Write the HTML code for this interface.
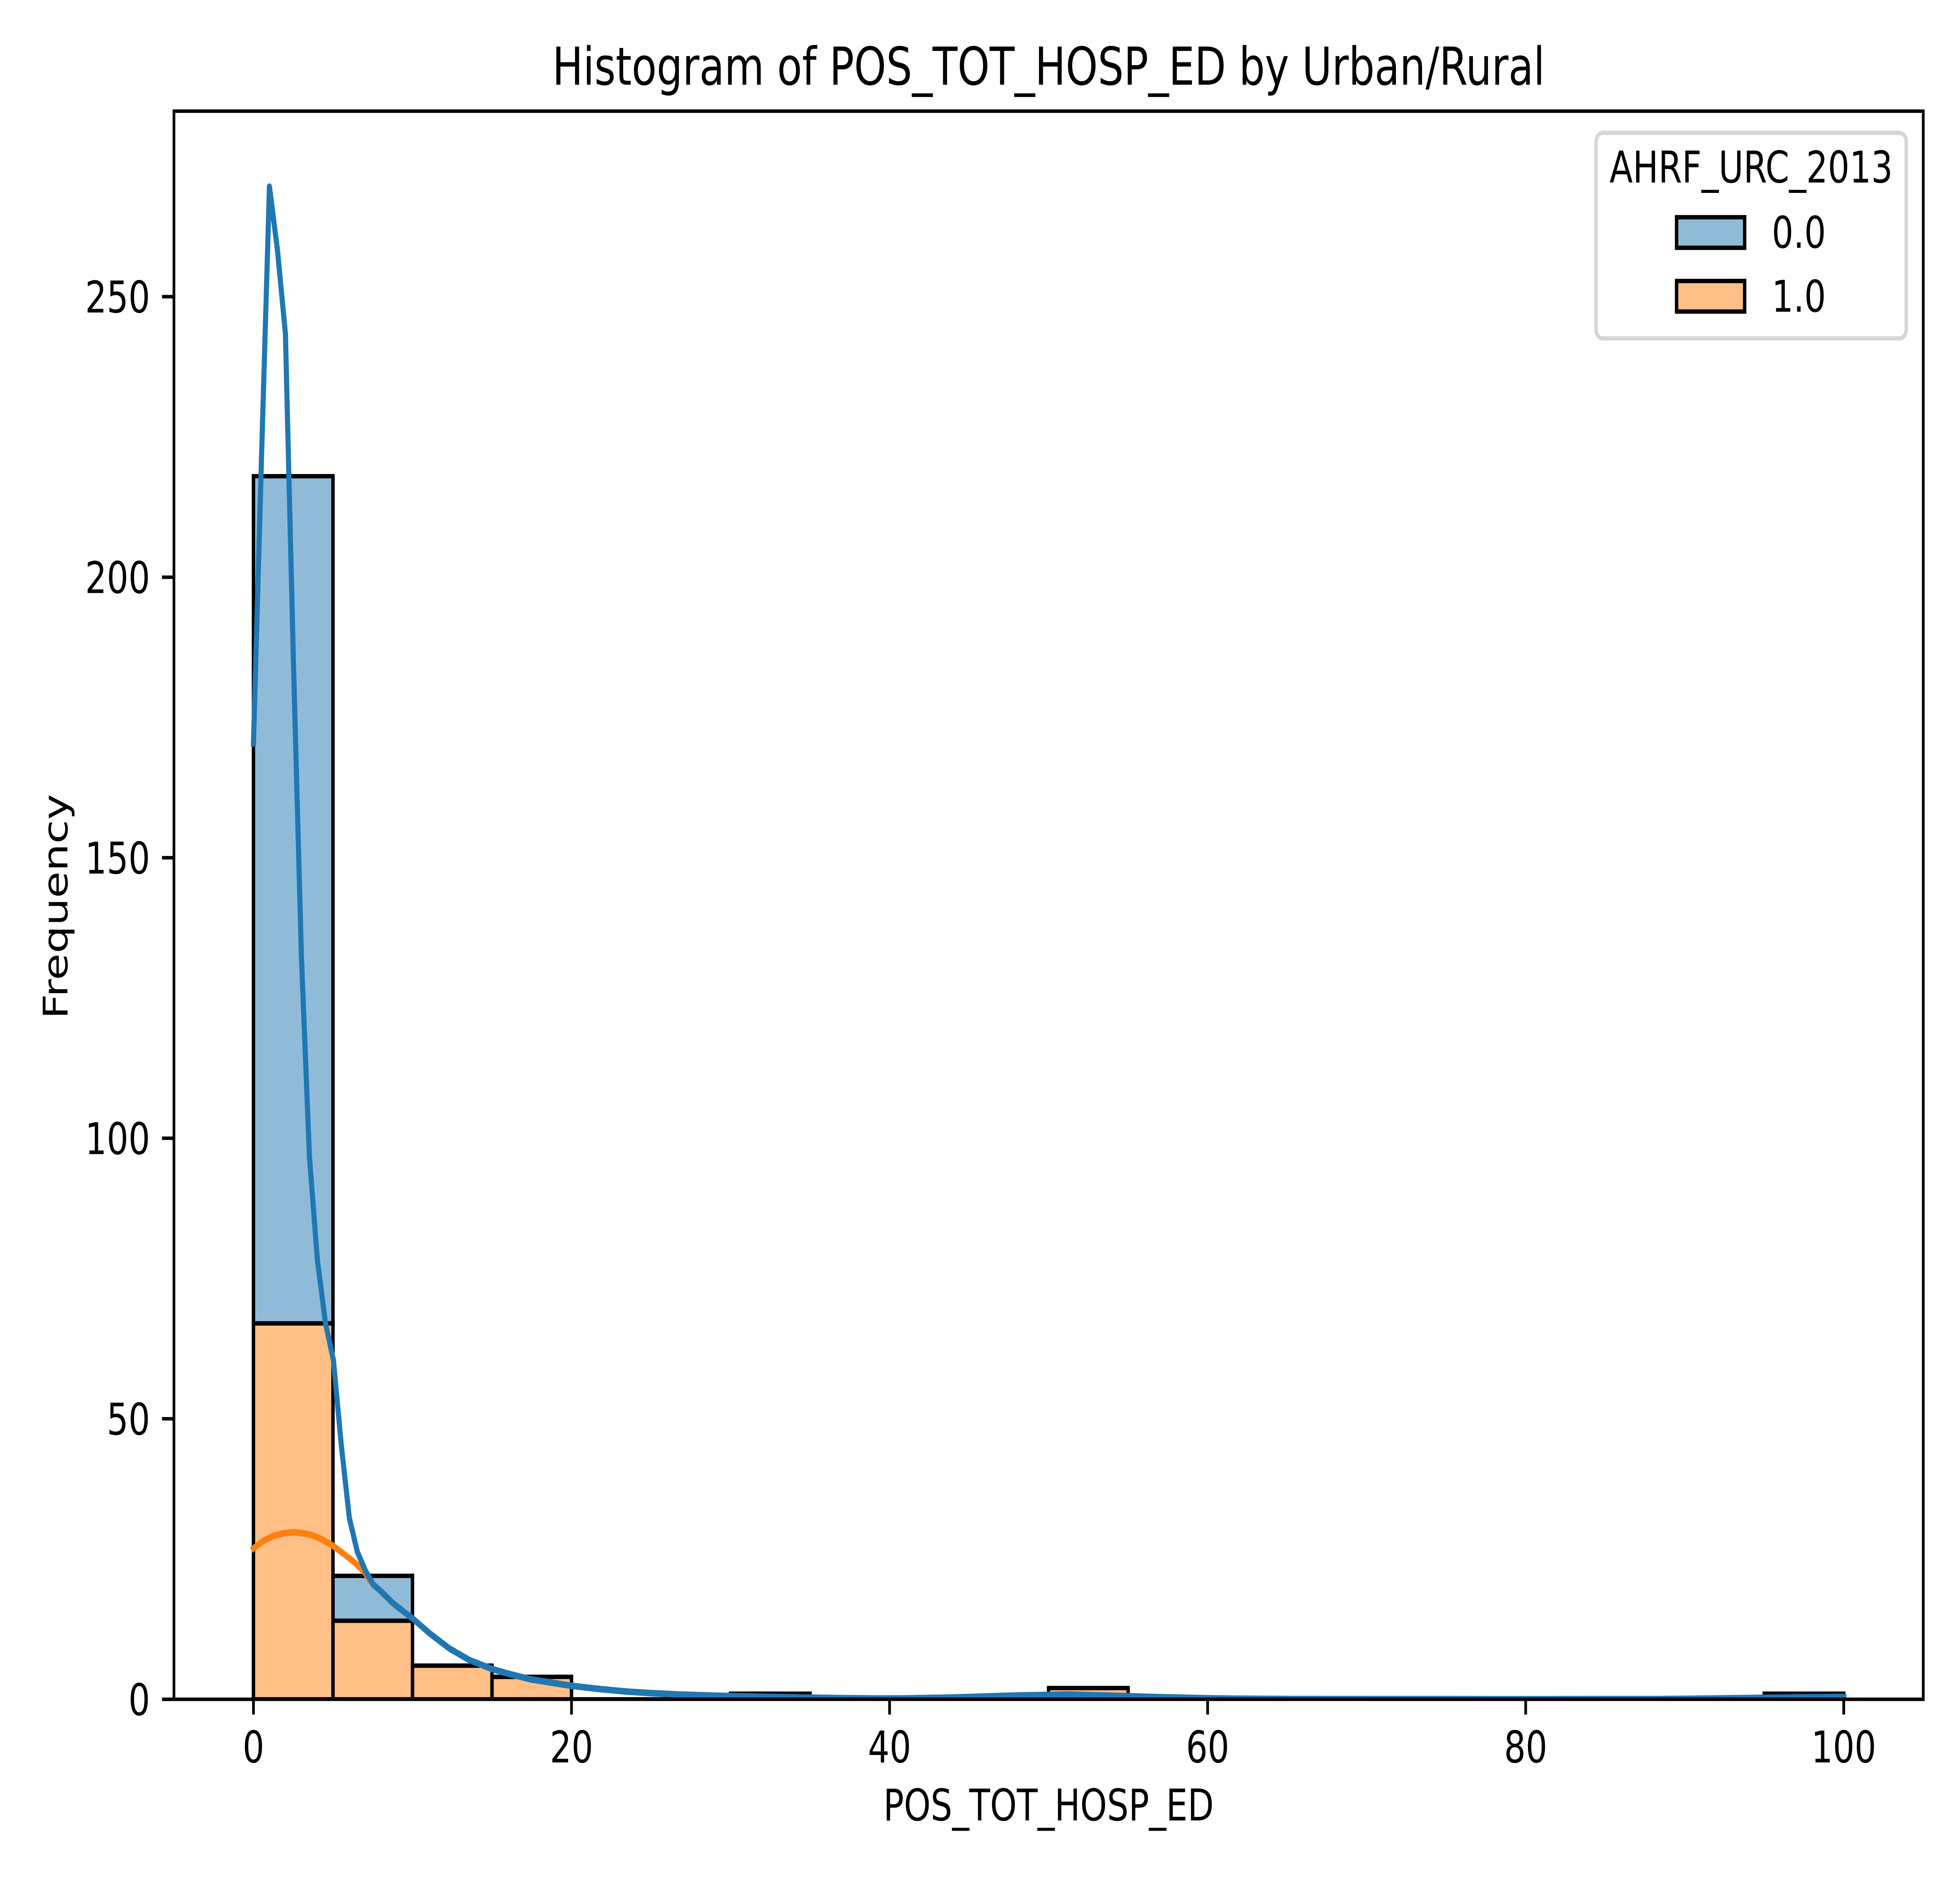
<!DOCTYPE html>
<html>
<head>
<meta charset="utf-8">
<title>Histogram of POS_TOT_HOSP_ED by Urban/Rural</title>
<style>
html,body{margin:0;padding:0;background:#fff;width:100%;height:100%;overflow:hidden}
svg{display:block;width:100vw;height:100vh}
text{font-family:"DejaVu Sans","Liberation Sans",sans-serif;fill:#000}
</style>
</head>
<body>
<svg id="chart" xmlns="http://www.w3.org/2000/svg" viewBox="0 0 6400 4800" preserveAspectRatio="none">
  <defs>
    <clipPath id="axes-clip"><rect x="568" y="283.5" width="5712" height="4050.5"/></clipPath>
  </defs>
  <rect x="0" y="0" width="6400" height="4800" fill="#fff"/>
  <g id="bars" clip-path="url(#axes-clip)"></g>
  <g id="lines" clip-path="url(#axes-clip)"></g>
  <g id="ticks"></g>
  <rect x="568" y="283.5" width="5712" height="4050.5" fill="none" stroke="#000" stroke-width="8.89" stroke-linejoin="miter"/>
  <text x="3424" y="216" font-size="133.33" text-anchor="middle">Histogram of POS_TOT_HOSP_ED by Urban/Rural</text>
  <text x="3424" y="4643" font-size="111.11" text-anchor="middle">POS_TOT_HOSP_ED</text>
  <text x="220" y="2312" font-size="111.11" text-anchor="middle" transform="rotate(-90 220 2312)">Frequency</text>
  <g>
    <rect x="5211.6" y="338.8" width="1013" height="524.4" rx="22.2" ry="22.2" fill="#fff" fill-opacity="0.8" stroke="#d6d6d6" stroke-width="11.11"/>
    <text x="5718" y="465.5" font-size="111.11" text-anchor="middle">AHRF_URC_2013</text>
    <rect x="5474.6" y="554" width="222.2" height="78" fill="#1f77b4" fill-opacity="0.5" stroke="#000" stroke-width="11.11"/>
    <text x="5785.5" y="632" font-size="111.11">0.0</text>
    <rect x="5474.6" y="716.6" width="222.2" height="78" fill="#ff7f0e" fill-opacity="0.5" stroke="#000" stroke-width="11.11"/>
    <text x="5785.5" y="795" font-size="111.11">1.0</text>
  </g>
</svg>
<script>
// Chart data
const binEdges = [0,5,10,15,20,25,30,35,40,45,50,55,60,65,70,75,80,85,90,95,100];
const countsRural = [67,14,6,4,0,0,0,0,0,0,2,0,0,0,0,0,0,0,0,0];
const countsUrban = [151,8,0,0,0,0,1,0,0,0,0,0,0,0,0,0,0,0,0,1];
const kdeBlueX = [0,0.5025,1.005,1.51,2.01,2.51,3.015,3.52,4.02,4.52,5.03,5.53,6.03,6.53,7.04,7.54,8.04,8.75,9.05,10.05,11.06,12.3,13.57,15,16.1,17.45,20,21.7,23.5,25,26.7,28.4,29.9,32,35.2,37,39.2,41,43.8,46,48,50.1,51.2,53,55,57,60,62,65,70,80,88.3,91.9,94.9,97,100];
const kdeBlueY = [170.4,221,269.6,258.3,243.4,185.2,132.4,96.7,78.3,67.2,60.4,45.1,32.3,26.3,22.9,20.4,19.2,17.2,16.5,14.3,11.8,9.1,7,5.4,4.5,3.55,2.4,1.85,1.37,1.1,0.86,0.7,0.58,0.45,0.28,0.2,0.14,0.16,0.3,0.5,0.68,0.79,0.85,0.72,0.55,0.38,0.18,0.1,0.05,0.03,0.02,0.04,0.14,0.26,0.34,0.42];
const kdeOrangeX = [0,0.6,1.23,1.9,2.56,3.33,3.74,4.3,4.93,5.5,6.1,6.54,7,7.35,8.04,8.75,9.05,10.05,11.06,12.3,13.57,15,16.1,17.45,20,21.7,23.5,25,26.7,28.4,29.9,32,35.2,37,39.2,41,43.8,46,48,50.1,51.2,53,55,57,60,62,65];
const kdeOrangeY = [26.9,28.2,29.1,29.6,29.8,29.5,29.2,28.5,27.5,26.3,25,23.9,22.6,21,19.1,17.2,16.5,14.3,11.8,9.1,7,5.4,4.5,3.55,2.4,1.85,1.37,1.1,0.86,0.7,0.58,0.45,0.28,0.2,0.14,0.16,0.3,0.5,0.68,0.79,0.85,0.72,0.55,0.38,0.18,0.1,0.05];
const xTickValues = [0,20,40,60,80,100];
const yTickValues = [0,50,100,150,200,250];

// Axis functions
const SVG_NS = 'http://www.w3.org/2000/svg';
const xMin = -5, xMax = 105, yMax = 283.07;
const left = 568, right = 6280, top_ = 283.5, bottom = 4334;
function xScale(v){ return left + (v - xMin) / (xMax - xMin) * (right - left); }
function yScale(v){ return bottom - v / yMax * (bottom - top_); }

function make(tag, parent){
  const el = document.createElementNS(SVG_NS, tag);
  parent.appendChild(el);
  return el;
}

const barsGroup = document.getElementById('bars');
const linesGroup = document.getElementById('lines');
const ticksGroup = document.getElementById('ticks');

function drawBar(i, base, height, color, label){
  const x0 = xScale(binEdges[i]), x1 = xScale(binEdges[i + 1]);
  const y0 = yScale(base), y1 = yScale(base + height);
  const p = make('path', barsGroup);
  p.setAttribute('d', 'M' + x0 + ' ' + y0 + 'L' + x0 + ' ' + y1 + 'L' + x1 + ' ' + y1 + 'L' + x1 + ' ' + y0 + 'Z');
  p.setAttribute('fill', color);
  p.setAttribute('fill-opacity', '0.5');
  p.setAttribute('stroke', '#000');
  p.setAttribute('stroke-width', '11.11');
  p.setAttribute('stroke-linejoin', 'miter');
  
  
}

for (let i = 0; i < countsUrban.length; i++) {
  drawBar(i, countsRural[i], countsUrban[i], '#1f77b4', 'urban-rural-0');
}
for (let i = 0; i < countsRural.length; i++) {
  drawBar(i, 0, countsRural[i], '#ff7f0e', 'urban-rural-1');
}

function drawLine(xs, ys, color, label){
  const p = make('path', linesGroup);
  let d = '';
  for (let i = 0; i < xs.length; i++) {
    d += (i ? 'L' : 'M') + xScale(xs[i]).toFixed(2) + ' ' + yScale(ys[i]).toFixed(2);
  }
  p.setAttribute('d', d);
  p.setAttribute('fill', 'none');
  p.setAttribute('stroke', color);
  p.setAttribute('stroke-width', '16.67');
  p.setAttribute('stroke-linejoin', 'round');
  p.setAttribute('stroke-linecap', 'square');
  
  
}
drawLine(kdeOrangeX, kdeOrangeY, '#ff7f0e', 'kde-line-1');
drawLine(kdeBlueX, kdeBlueY, '#1f77b4', 'kde-line-0');

xTickValues.forEach(function(v){
  const px = xScale(v);
  const t = make('line', ticksGroup);
  t.setAttribute('x1', px);
  t.setAttribute('x2', px);
  t.setAttribute('y1', bottom);
  t.setAttribute('y2', bottom + 38.9);
  t.setAttribute('stroke', '#000');
  t.setAttribute('stroke-width', '8.89');
  
  
  const l = make('text', ticksGroup);
  l.setAttribute('x', px);
  l.setAttribute('y', 4495);
  l.setAttribute('font-size', '111.11');
  l.setAttribute('text-anchor', 'middle');
  
  
  l.textContent = String(v);
});

yTickValues.forEach(function(v){
  const py = yScale(v);
  const t = make('line', ticksGroup);
  t.setAttribute('x1', left - 38.9);
  t.setAttribute('x2', left);
  t.setAttribute('y1', py);
  t.setAttribute('y2', py);
  t.setAttribute('stroke', '#000');
  t.setAttribute('stroke-width', '8.89');
  
  
  const l = make('text', ticksGroup);
  l.setAttribute('x', 490);
  l.setAttribute('y', py + 40.5);
  l.setAttribute('font-size', '111.11');
  l.setAttribute('text-anchor', 'end');
  
  
  l.textContent = String(v);
});
</script>
</body>
</html>
